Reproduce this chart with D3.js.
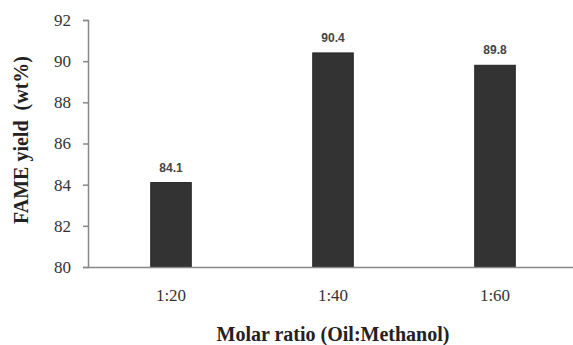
<!DOCTYPE html>
<html><head><meta charset="utf-8">
<script src="https://cdn.jsdelivr.net/npm/d3@7"></script>
<style>body{margin:0;background:#fff}svg{display:block}
.serif{font-family:"Liberation Serif","Times New Roman",serif}
.sans{font-family:"Liberation Sans",Arial,sans-serif}
</style>
</head><body>
<script>
const categories = ["1:20", "1:40", "1:60"];
const values = [84.1, 90.4, 89.8];
const valueLabels = ["84.1", "90.4", "89.8"];
const yTicks = [80, 82, 84, 86, 88, 90, 92];

const W = 573, H = 345;
const svg = d3.select("body").append("svg").attr("width", W).attr("height", H);
const x0 = 88, yTop = 20, yBot = 267;
const x = d3.scaleBand().domain(categories).range([90, 576]).paddingInner(0.75).paddingOuter(0.375);
const y = d3.scaleLinear().domain([80, 92]).range([yBot, yTop]);

// y axis
const ya = svg.append("g").attr("transform", `translate(${x0},0)`)
  .call(d3.axisLeft(y).tickValues(yTicks).tickSize(5).tickPadding(12).tickFormat(d3.format("d")));
ya.attr("font-family", null);
ya.select(".domain").attr("stroke", "#888").attr("stroke-width", 1.5);
ya.selectAll(".tick line").attr("stroke", "#888").attr("stroke-width", 1.5);
ya.selectAll("text").attr("class", "serif").style("font-size", "17px").attr("fill", "#333");

// bars
svg.selectAll("rect.bar").data(values).join("rect").attr("class", "bar")
  .attr("x", (d, i) => x(categories[i])).attr("width", x.bandwidth())
  .attr("y", d => y(d)).attr("height", d => yBot - y(d))
  .attr("fill", "#333").attr("stroke", "#222").attr("stroke-width", 1);

// x axis
const xa = svg.append("g").attr("transform", `translate(0,${yBot})`)
  .call(d3.axisBottom(x).tickSize(0).tickPadding(22));
xa.attr("font-family", null);
xa.select(".domain").attr("stroke", "#888").attr("stroke-width", 1.5).attr("d", `M${x0},0.5H573`);
xa.selectAll("text").attr("class", "serif").style("font-size", "17px").attr("fill", "#333");

// value labels
svg.selectAll("text.val").data(values).join("text").attr("class", "val sans")
  .attr("x", (d, i) => x(categories[i]) + x.bandwidth() / 2)
  .attr("y", d => y(d) - 11)
  .attr("text-anchor", "middle")
  .style("font-size", "12px").attr("font-weight", "bold").attr("fill", "#444")
  .text((d, i) => valueLabels[i]);

// titles
svg.append("text").attr("class", "serif").attr("x", 333).attr("y", 341).attr("text-anchor", "middle")
  .style("font-size", "20px").attr("font-weight", "bold").attr("fill", "#222")
  .text("Molar ratio (Oil:Methanol)");
svg.append("text").attr("class", "serif").attr("transform", "translate(28,140) rotate(-90)").attr("text-anchor", "middle")
  .style("font-size", "20px").attr("font-weight", "bold").attr("fill", "#222")
  .style("white-space", "pre")
  .text("FAME yield  (wt%)");
</script>
</body></html>
